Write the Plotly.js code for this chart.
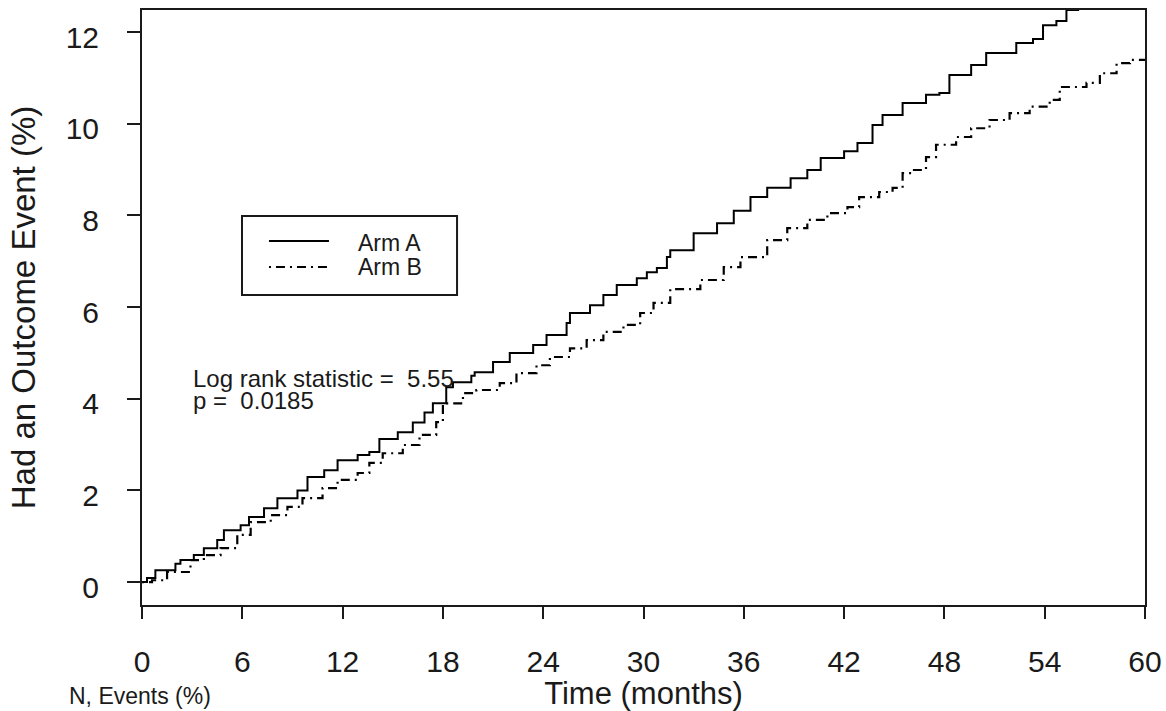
<!DOCTYPE html>
<html>
<head>
<meta charset="utf-8">
<script src="https://cdn.plot.ly/plotly-3.0.1.min.js"></script>
<style>html,body{margin:0;padding:0;background:#fff;}#chart{width:1166px;height:711px;}</style>
</head>
<body>
<div id="chart"></div>
<script>
// Time (months) and cumulative event percentage
const armA_time = [0, 0.3, 0.8, 2.0, 2.3, 3.1, 3.7, 4.5, 4.9, 5.9, 6.4, 7.3, 8.1, 9.3, 9.9, 10.9, 11.7, 12.9, 13.6, 14.2, 15.3, 16.2, 16.9, 17.4, 18.2, 18.6, 19.7, 19.9, 21.0, 22.0, 23.4, 24.2, 25.4, 25.6, 26.8, 27.6, 28.4, 29.6, 30.2, 30.8, 31.4, 31.6, 33.0, 34.4, 35.4, 36.4, 37.4, 38.8, 39.8, 40.6, 42.0, 42.8, 43.7, 44.3, 45.5, 46.9, 47.7, 48.3, 49.6, 50.5, 52.3, 53.3, 53.9, 54.7, 55.3, 56.0];
const armA_pct  = [0, 0.09, 0.26, 0.40, 0.48, 0.59, 0.74, 0.92, 1.13, 1.24, 1.42, 1.61, 1.83, 2.00, 2.29, 2.44, 2.66, 2.77, 2.84, 3.12, 3.27, 3.48, 3.70, 3.90, 4.25, 4.36, 4.50, 4.58, 4.80, 5.00, 5.17, 5.39, 5.65, 5.87, 6.04, 6.26, 6.48, 6.63, 6.76, 6.85, 7.09, 7.24, 7.61, 7.83, 8.10, 8.40, 8.60, 8.81, 8.99, 9.25, 9.40, 9.58, 9.97, 10.19, 10.45, 10.63, 10.67, 11.06, 11.28, 11.54, 11.76, 11.85, 12.15, 12.24, 12.48, 12.70];

const armB_time = [0, 0.6, 1.5, 2.9, 3.7, 4.7, 5.7, 6.5, 7.7, 8.7, 9.6, 10.8, 11.7, 12.9, 13.6, 14.4, 15.6, 16.6, 17.6, 18.0, 19.2, 20.0, 21.4, 22.4, 23.6, 24.4, 25.6, 26.6, 27.6, 28.8, 29.8, 30.6, 31.6, 33.4, 34.8, 35.8, 37.4, 38.6, 39.8, 41.0, 42.2, 42.9, 44.1, 44.9, 45.5, 46.1, 46.9, 47.5, 48.7, 49.6, 50.7, 51.9, 53.1, 54.3, 54.9, 56.5, 57.3, 58.3, 59.1, 60];
const armB_pct  = [0, 0.04, 0.22, 0.48, 0.59, 0.74, 1.03, 1.31, 1.46, 1.64, 1.83, 2.05, 2.23, 2.38, 2.60, 2.81, 2.99, 3.21, 3.49, 3.90, 4.12, 4.19, 4.34, 4.56, 4.73, 4.91, 5.10, 5.28, 5.46, 5.61, 5.87, 6.09, 6.39, 6.59, 6.87, 7.09, 7.46, 7.72, 7.90, 8.05, 8.18, 8.40, 8.51, 8.60, 8.92, 8.99, 9.27, 9.54, 9.71, 9.90, 10.08, 10.23, 10.37, 10.52, 10.80, 10.89, 11.10, 11.32, 11.39, 11.39];

const seriesNames = ["Arm A", "Arm B"];
const xTicks = [0, 6, 12, 18, 24, 30, 36, 42, 48, 54, 60];
const yTicks = [0, 2, 4, 6, 8, 10, 12];
const statLines = ["Log rank statistic =  5.55", "p =  0.0185"];

const FONT = "Liberation Sans, Arial, sans-serif";
const INK = "#1a1a1a";
const DASHDOT = "2px,5px,9px,5px";

const traces = [
  {x: armA_time, y: armA_pct, name: seriesNames[0], type: "scatter", mode: "lines",
   line: {shape: "hv", color: "#000", width: 2}},
  {x: armB_time, y: armB_pct, name: seriesNames[1], type: "scatter", mode: "lines",
   line: {shape: "hv", color: "#000", width: 2.2, dash: DASHDOT}}
];

const layout = {
  width: 1166, height: 711,
  margin: {l: 142, r: 21, t: 10, b: 106, autoexpand: false},
  paper_bgcolor: "#fff", plot_bgcolor: "#fff",
  showlegend: false,
  font: {family: FONT, color: INK},
  xaxis: {
    range: [0, 60], tickvals: xTicks, ticktext: xTicks.map(String),
    ticks: "outside", ticklen: 12, tickwidth: 2, tickcolor: INK,
    showline: true, mirror: true, linewidth: 2, linecolor: INK,
    showgrid: false, zeroline: false,
    tickfont: {size: 30, color: INK, family: FONT},
    ticklabelstandoff: 17,
    title: {text: "Time (months)", font: {size: 31, color: INK, family: FONT}, standoff: 6},
    automargin: false, fixedrange: true
  },
  yaxis: {
    range: [-0.50, 12.48], tickvals: yTicks, ticktext: yTicks.map(String),
    ticks: "outside", ticklen: 13, tickwidth: 2, tickcolor: INK,
    showline: true, mirror: true, linewidth: 2, linecolor: INK,
    showgrid: false, zeroline: false,
    tickfont: {size: 30, color: INK, family: FONT},
    ticklabelstandoff: 22, ticklabelshift: 5,
    title: {text: "Had an Outcome Event (%)", font: {size: 33, color: INK, family: FONT}, standoff: 20},
    automargin: false, fixedrange: true
  },
  shapes: [
    {type: "rect", xref: "paper", yref: "paper", x0: 0.0997, x1: 0.3141, y0: 0.5210, y1: 0.6538,
     line: {color: INK, width: 2}, fillcolor: "rgba(255,255,255,0)"},
    {type: "line", xref: "paper", yref: "paper", x0: 0.1266, x1: 0.1864, y0: 0.6118, y1: 0.6118,
     line: {color: "#000", width: 2}},
    {type: "line", xref: "paper", yref: "paper", x0: 0.1266, x1: 0.1864, y0: 0.5681, y1: 0.5681,
     line: {color: "#000", width: 2, dash: DASHDOT}}
  ],
  annotations: [
    {xref: "paper", yref: "paper", x: 0.2134, y: 0.6084, xanchor: "left", yanchor: "middle",
     text: seriesNames[0], showarrow: false, font: {size: 23, color: INK, family: FONT}},
    {xref: "paper", yref: "paper", x: 0.2134, y: 0.5681, xanchor: "left", yanchor: "middle",
     text: seriesNames[1], showarrow: false, font: {size: 23, color: INK, family: FONT}},
    {xref: "x", yref: "y", x: 2.95, y: 4.45, xanchor: "left", yanchor: "middle",
     text: statLines[0], showarrow: false, font: {size: 24, color: INK, family: FONT}},
    {xref: "x", yref: "y", x: 2.95, y: 3.97, xanchor: "left", yanchor: "middle",
     text: statLines[1], showarrow: false, font: {size: 24, color: INK, family: FONT}},
    {xref: "paper", yref: "paper", x: -0.0748, y: -0.153, xanchor: "left", yanchor: "middle",
     text: "N, Events (%)", showarrow: false, font: {size: 23, color: INK, family: FONT}}
  ]
};

Plotly.newPlot("chart", traces, layout, {displayModeBar: false, staticPlot: true});
</script>
</body>
</html>
